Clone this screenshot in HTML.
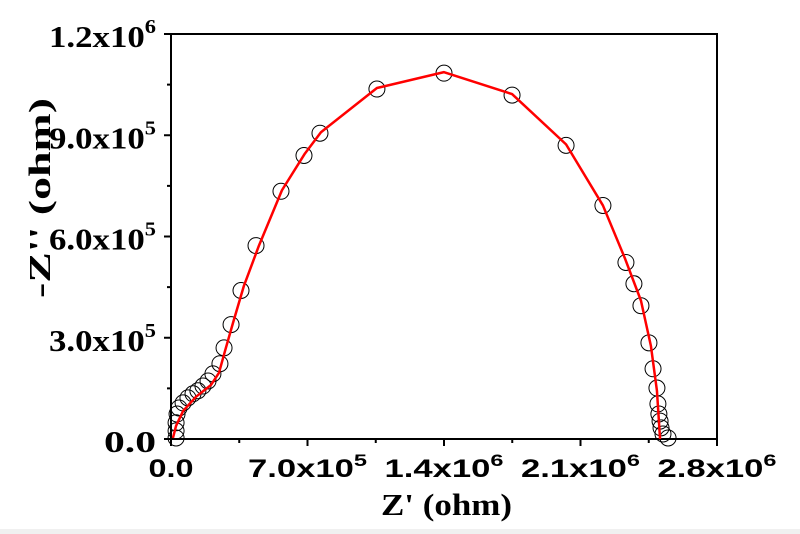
<!DOCTYPE html>
<html><head><meta charset="utf-8"><style>
html,body{margin:0;padding:0;background:#fff;width:800px;height:534px;overflow:hidden}
</style></head><body>
<svg id="chart" width="800" height="534" xmlns="http://www.w3.org/2000/svg">
<rect x="0" y="529" width="800" height="5" fill="#f0f0f0"/>
<g id="frame"></g>
<g id="marks"></g>
<g id="labels"></g>
</svg>
<script>
const xTicks = [0, 700000, 1400000, 2100000, 2800000];
const xTickMant = ["0.0", "7.0x10", "1.4x10", "2.1x10", "2.8x10"];
const xTickExp = ["", "5", "6", "6", "6"];
const yTicks = [0, 300000, 600000, 900000, 1200000];
const yTickMant = ["0.0", "3.0x10", "6.0x10", "9.0x10", "1.2x10"];
const yTickExp = ["", "5", "5", "5", "6"];
const dataX = [26e3,26e3,26e3,31e3,41e3,62e3,87e3,113e3,138e3,164e3,190e3,215e3,251e3,272e3,308e3,359e3,436e3,564e3,682e3,764e3,1056e3,1400e3,1749e3,2026e3,2215e3,2333e3,2374e3,2410e3,2451e3,2472e3,2492e3,2497e3,2502e3,2508e3,2513e3,2523e3,2549e3];
const dataY = [3e3,24e3,48e3,74e3,92e3,107e3,122e3,134e3,143e3,157e3,172e3,193e3,223e3,270e3,339e3,440e3,573e3,734e3,840e3,906e3,1037e3,1084e3,1019e3,870e3,692e3,523e3,460e3,395e3,285e3,208e3,151e3,104e3,74e3,53e3,33e3,15e3,3e3];
const fitX = [10e3,26e3,62e3,128e3,205e3,246e3,277e3,318e3,374e3,451e3,569e3,687e3,769e3,1056e3,1400e3,1749e3,2026e3,2215e3,2328e3,2410e3,2461e3,2492e3,2508e3];
const fitY = [3e3,39e3,83e3,125e3,160e3,196e3,261e3,344e3,454e3,573e3,737e3,846e3,909e3,1040e3,1087e3,1022e3,873e3,692e3,535e3,410e3,276e3,143e3,0];

const L=171, R=717, T=34, B=439;
const sx = v => L + v/2800000*(R-L);
const sy = v => B - v/1200000*(B-T);
const NS="http://www.w3.org/2000/svg";
function mk(tag, attrs, parent){const e=document.createElementNS(NS,tag);for(const k in attrs)e.setAttribute(k,attrs[k]);parent.appendChild(e);return e;}
const frame=document.getElementById('frame'), marks=document.getElementById('marks'), labels=document.getElementById('labels');

let e=mk('rect',{x:L,y:T,width:R-L,height:B-T,fill:'none',stroke:'#000','stroke-width':2},frame);



xTicks.forEach((v,i)=>{
  let t=mk('line',{x1:sx(v),x2:sx(v),y1:B,y2:B+7,stroke:'#000','stroke-width':2},frame);
  
  
  if(i<xTicks.length-1){
    let m=mk('line',{x1:sx(v+350000),x2:sx(v+350000),y1:B,y2:B+4,stroke:'#000','stroke-width':2},frame);
    
    
  }
  const w = xTickExp[i] ? 119 : 45;
  let tx=mk('text',{x:sx(v)-w/2,y:477,'font-family':'"Liberation Sans",sans-serif','font-weight':'bold','font-size':'25',textLength:w,lengthAdjust:'spacingAndGlyphs'},labels);
  tx.textContent=xTickMant[i];
  if(xTickExp[i]){const s=mk('tspan',{dy:-11,'font-size':'17'},tx);s.textContent=xTickExp[i];}
  
  
});
yTicks.forEach((v,i)=>{
  let t=mk('line',{x1:L-7,x2:L,y1:sy(v),y2:sy(v),stroke:'#000','stroke-width':2},frame);
  
  
  if(i<yTicks.length-1){
    let m=mk('line',{x1:L-4,x2:L,y1:sy(v+150000),y2:sy(v+150000),stroke:'#000','stroke-width':2},frame);
    
    
  }
  const w = yTickExp[i] ? 107 : 52;
  let tx=mk('text',{x:156-w,y:sy(v)+13,'font-family':'"Liberation Serif",serif','font-weight':'bold','font-size':'31',textLength:w,lengthAdjust:'spacingAndGlyphs'},labels);
  tx.textContent=yTickMant[i];
  if(yTickExp[i]){const s=mk('tspan',{dy:-14,'font-size':'20'},tx);s.textContent=yTickExp[i];}
  
  
});

dataX.forEach((v,i)=>{
  let c=mk('circle',{cx:sx(v),cy:sy(dataY[i]),r:8,fill:'none',stroke:'#000','stroke-width':1},marks);
  
  
});
let p=mk('polyline',{points:fitX.map((v,i)=>sx(v)+','+sy(fitY[i])).join(' '),fill:'none',stroke:'#ff0000','stroke-width':2.5,'stroke-linejoin':'round'},marks);



let xt=mk('text',{x:381,y:515,'font-family':'"Liberation Serif",serif','font-weight':'bold','font-size':'31',textLength:131,lengthAdjust:'spacingAndGlyphs'},labels);
xt.textContent="Z' (ohm)";


let yt=mk('text',{x:-100,y:0,transform:'translate(50,198) rotate(-90)','font-family':'"Liberation Serif",serif','font-weight':'bold','font-size':'31',textLength:200,lengthAdjust:'spacingAndGlyphs'},labels);
yt.textContent="-Z'' (ohm)";


</script>
</body></html>
